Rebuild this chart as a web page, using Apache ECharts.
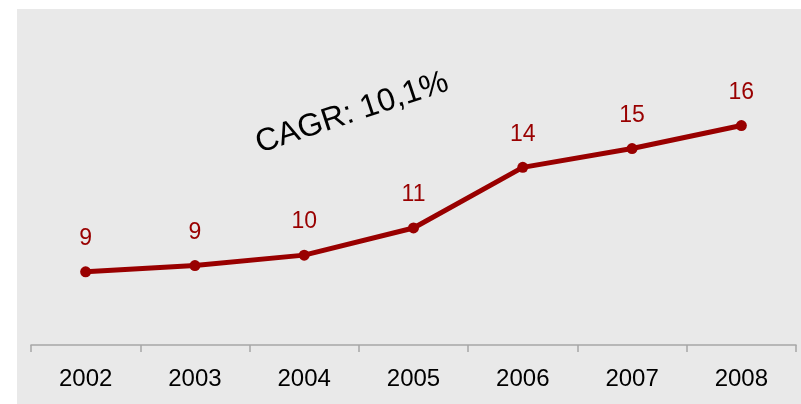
<!DOCTYPE html>
<html>
<head>
<meta charset="utf-8">
<script src="https://cdn.jsdelivr.net/npm/echarts@6/dist/echarts.min.js"></script>
<style>
  html, body { margin: 0; padding: 0; background: #fff; }
  #chart { width: 801px; height: 404px; }
</style>
</head>
<body>
<div id="chart"></div>
<script>
// categories and values (labels are rounded)
const years = ['2002', '2003', '2004', '2005', '2006', '2007', '2008'];
const values = [9.0, 9.3, 9.8, 11.1, 14.0, 14.9, 16.0];
const cagrText = 'CAGR: 10,1%';

const chart = echarts.init(document.getElementById('chart'));
chart.setOption({
  animation: false,
  backgroundColor: '#fff',
  graphic: [
    {
      type: 'rect',
      z: -10,
      shape: { x: 17, y: 9, width: 784, height: 395 },
      style: { fill: '#e9e9e9' },
    },
    {
      type: 'text',
      x: 352,
      y: 113,
      rotation: 0.32,
      style: {
        text: cagrText,
        fill: '#000',
        font: '32px "Liberation Sans", Arial, sans-serif',
        align: 'center',
        verticalAlign: 'middle',
      },
    },
  ],
  grid: { left: 31, right: 5, top: 31.5, bottom: 59 },
  xAxis: {
    type: 'category',
    data: years,
    axisLine: { lineStyle: { color: '#a6a6a6', width: 1.5 } },
    axisTick: { show: true, length: 7, lineStyle: { color: '#a6a6a6', width: 1.5 } },
    axisLabel: {
      margin: 22,
      color: '#000',
      fontSize: 24,
      fontFamily: '"Liberation Sans", Arial, sans-serif',
    },
  },
  yAxis: {
    type: 'value',
    min: 5.5,
    max: 20.5,
    show: false,
    splitLine: { show: false },
  },
  series: [{
    type: 'line',
    data: values,
    symbol: 'circle',
    symbolSize: 11,
    lineStyle: { color: '#990000', width: 5 },
    itemStyle: { color: '#990000' },
    label: {
      show: true,
      position: 'top',
      distance: 16,
      color: '#990000',
      fontSize: 23,
      fontFamily: '"Liberation Sans", Arial, sans-serif',
      formatter: (p) => Math.round(p.value),
    },
  }],
});
</script>
</body>
</html>
